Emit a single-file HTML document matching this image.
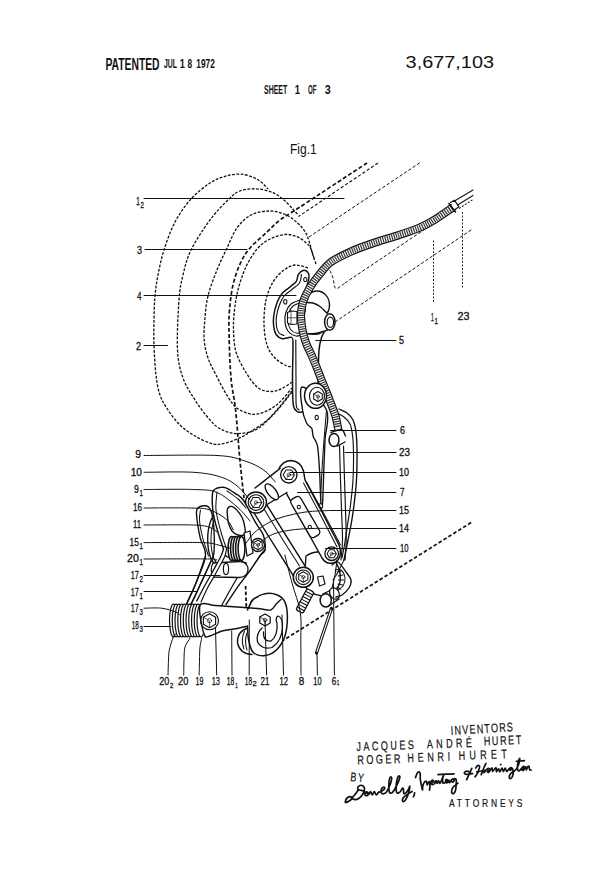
<!DOCTYPE html>
<html><head><meta charset="utf-8"><style>
html,body{margin:0;padding:0;background:#fff;width:600px;height:882px;overflow:hidden}
svg{display:block}
text{fill:#111}
.lb{stroke:#111;stroke-width:0.3}
</style></head><body>
<svg width="600" height="882" viewBox="0 0 600 882" stroke-linecap="round" stroke-linejoin="round">
<rect width="600" height="882" fill="#fff"/>
<text x="105.4" y="69.5" font-size="15.8" font-weight="bold" font-family="Liberation Sans, sans-serif" text-anchor="start" textLength="54.2" lengthAdjust="spacingAndGlyphs" >PATENTED</text>
<text x="164" y="68.4" font-size="13.1" font-weight="bold" font-family="Liberation Sans, sans-serif" text-anchor="start" textLength="13" lengthAdjust="spacingAndGlyphs" >JUL</text>
<text x="179.8" y="68.4" font-size="13.1" font-weight="bold" font-family="Liberation Sans, sans-serif" text-anchor="start" textLength="5.2" lengthAdjust="spacingAndGlyphs" >1</text>
<text x="187.6" y="68.4" font-size="13.1" font-weight="bold" font-family="Liberation Sans, sans-serif" text-anchor="start" textLength="4.6" lengthAdjust="spacingAndGlyphs" >8</text>
<text x="196.3" y="68.4" font-size="13.1" font-weight="bold" font-family="Liberation Sans, sans-serif" text-anchor="start" textLength="18.5" lengthAdjust="spacingAndGlyphs" >1972</text>
<text x="405.6" y="68" font-size="16.8" font-weight="normal" font-family="Liberation Sans, sans-serif" text-anchor="start" textLength="88.4" lengthAdjust="spacingAndGlyphs" >3,677,103</text>
<text x="264" y="93.8" font-size="13.6" font-weight="bold" font-family="Liberation Sans, sans-serif" text-anchor="start" textLength="23.2" lengthAdjust="spacingAndGlyphs" >SHEET</text>
<text x="294.7" y="93.8" font-size="13.6" font-weight="bold" font-family="Liberation Sans, sans-serif" text-anchor="start" textLength="5.3" lengthAdjust="spacingAndGlyphs" >1</text>
<text x="308" y="93.8" font-size="13.6" font-weight="bold" font-family="Liberation Sans, sans-serif" text-anchor="start" textLength="8.5" lengthAdjust="spacingAndGlyphs" >OF</text>
<text x="324.7" y="93.8" font-size="13.6" font-weight="bold" font-family="Liberation Sans, sans-serif" text-anchor="start" textLength="6" lengthAdjust="spacingAndGlyphs" >3</text>
<text x="290" y="153.8" font-size="14" font-weight="normal" font-family="Liberation Sans, sans-serif" text-anchor="start" textLength="26.7" lengthAdjust="spacingAndGlyphs" >Fig.1</text>
<path d="M291.7 392.3 C288.4 396.3 278.4 409.9 271.7 416.3 C265.0 422.8 257.3 427.3 251.7 431.0 C246.1 434.7 242.8 436.5 238.3 438.5 C233.9 440.5 229.2 442.3 225.0 443.2 C220.8 444.1 218.0 445.2 213.0 444.0 C208.0 442.8 200.5 439.2 195.0 436.0 C189.5 432.8 184.5 429.3 180.0 425.0 C175.5 420.7 171.3 415.0 168.0 410.0 C164.7 405.0 162.0 400.8 160.0 395.0 C158.0 389.2 157.0 383.3 156.0 375.0 C155.0 366.7 154.3 354.2 154.0 345.0 C153.7 335.8 153.8 328.2 154.0 320.0 C154.2 311.8 154.3 303.5 155.0 296.0 C155.7 288.5 156.5 282.7 158.0 275.0 C159.5 267.3 161.2 258.8 164.0 250.0 C166.8 241.2 170.5 230.5 175.0 222.0 C179.5 213.5 185.2 205.5 191.0 199.0 C196.8 192.5 204.3 186.8 210.0 183.0 C215.7 179.2 219.8 177.9 225.0 176.4 C230.2 174.9 236.0 173.6 241.5 174.2 C247.0 174.8 253.6 177.2 258.0 179.7 C262.4 182.2 266.3 187.4 268.0 189.0" fill="none" stroke="#111" stroke-width="1.3" stroke-dasharray="2.8 1.5" stroke-linecap="butt" />
<path d="M297.4 214.0 C296.6 213.2 295.1 211.4 292.8 209.0 C290.5 206.6 287.1 202.6 283.7 199.8 C280.3 197.1 277.3 194.3 272.7 192.5 C268.1 190.7 261.6 189.1 256.2 188.8 C250.8 188.6 244.5 189.3 240.0 191.0 C235.5 192.7 234.0 194.2 229.0 199.0 C224.0 203.8 216.3 211.5 210.0 220.0 C203.7 228.5 195.5 240.8 191.0 250.0 C186.5 259.2 185.0 266.7 183.0 275.0 C181.0 283.3 179.9 287.5 179.0 300.0 C178.1 312.5 176.8 337.0 177.5 350.0 C178.2 363.0 180.1 369.7 183.0 378.0 C185.9 386.3 190.5 393.0 195.0 400.0 C199.5 407.0 205.6 415.1 210.0 420.0 C214.4 424.9 216.8 427.2 221.5 429.5 C226.2 431.8 231.9 433.8 238.0 433.6 C244.1 433.4 251.6 432.5 258.3 428.3 C265.0 424.1 272.7 414.5 278.3 408.3 C283.9 402.1 289.5 393.9 291.7 391.0" fill="none" stroke="#111" stroke-width="1.3" stroke-dasharray="2.8 1.5" stroke-linecap="butt" />
<path d="M316.0 264.0 C315.3 262.0 313.1 255.7 312.0 252.0 C310.9 248.3 310.4 245.2 309.3 242.0 C308.2 238.8 307.5 235.9 305.7 232.8 C303.9 229.8 301.7 226.8 298.3 223.7 C294.9 220.6 290.4 216.6 285.5 214.5 C280.6 212.4 274.8 210.9 269.0 211.0 C263.2 211.1 256.3 212.2 251.0 215.0 C245.7 217.8 241.0 222.5 237.0 228.0 C233.0 233.5 230.3 241.0 227.0 248.0 C223.7 255.0 220.2 262.0 217.0 270.0 C213.8 278.0 210.0 287.7 208.0 296.0 C206.0 304.3 205.4 312.7 204.8 320.0 C204.2 327.3 203.7 333.7 204.2 340.0 C204.7 346.3 206.0 352.2 208.0 358.0 C210.0 363.8 212.7 368.5 216.0 375.0 C219.3 381.5 224.3 391.3 228.0 397.0 C231.7 402.7 233.7 406.1 238.3 409.0 C242.9 411.9 249.5 414.9 255.7 414.3 C261.9 413.8 269.7 410.0 275.7 405.7 C281.7 401.4 289.0 391.2 291.7 388.3" fill="none" stroke="#111" stroke-width="1.3" stroke-dasharray="2.8 1.5" stroke-linecap="butt" />
<path d="M308.0 268.0 C305.8 267.5 299.0 264.7 295.0 265.0 C291.0 265.3 287.7 267.2 284.0 270.0 C280.3 272.8 276.0 277.0 273.0 282.0 C270.0 287.0 267.5 293.0 266.0 300.0 C264.5 307.0 263.8 316.5 264.0 324.0 C264.2 331.5 265.2 339.3 267.0 345.0 C268.8 350.7 271.7 354.5 275.0 358.0 C278.3 361.5 284.0 364.7 287.0 366.0 C290.0 367.3 292.0 366.0 293.0 366.0" fill="none" stroke="#111" stroke-width="1.3" stroke-dasharray="2.8 1.5" stroke-linecap="butt" />
<path d="M367.0 163.0 C355.8 170.3 314.5 197.5 300.0 207.0 C285.5 216.5 285.5 215.8 280.0 220.0 C274.5 224.2 272.0 227.3 267.0 232.0 C262.0 236.7 254.5 242.7 250.0 248.0 C245.5 253.3 242.8 257.8 240.0 264.0 C237.2 270.2 234.8 277.3 233.0 285.0 C231.2 292.7 230.2 301.7 229.5 310.0 C228.8 318.3 228.8 323.7 229.1 335.0 C229.3 346.3 229.9 365.5 231.0 378.0 C232.1 390.5 234.1 396.3 235.6 410.0 C237.1 423.7 238.5 445.3 239.9 460.0 C241.3 474.7 243.3 491.7 244.0 498.0" fill="none" stroke="#111" stroke-width="1.7" stroke-dasharray="4 2.2" stroke-linecap="butt" />
<line x1="378" y1="163" x2="298.5" y2="216.5" stroke="#111" stroke-width="1.1" stroke-linecap="butt" stroke-dasharray="3.2 2"/>
<path d="M314.0 258.0 C313.4 256.3 311.8 250.6 310.5 248.0 C309.2 245.4 308.2 244.6 306.0 242.7 C303.8 240.8 300.5 238.1 297.0 236.7 C293.5 235.3 289.5 234.1 285.0 234.5 C280.5 234.9 274.5 236.8 270.0 239.0 C265.5 241.2 261.5 244.3 258.0 248.0 C254.5 251.7 251.5 256.7 249.0 261.0 C246.5 265.3 244.9 268.8 243.0 274.0 C241.1 279.2 238.9 286.0 237.5 292.0 C236.1 298.0 235.2 303.7 234.5 310.0 C233.8 316.3 233.2 323.0 233.5 330.0 C233.8 337.0 233.9 344.8 236.0 352.0 C238.1 359.2 242.6 367.0 246.3 373.0 C250.0 379.0 254.1 384.9 258.3 388.0 C262.5 391.1 267.8 391.4 271.7 391.5 C275.6 391.6 278.7 390.0 282.0 388.5 C285.3 387.0 290.1 383.3 291.7 382.3" fill="none" stroke="#111" stroke-width="1.3" stroke-dasharray="2.8 1.5" stroke-linecap="butt" />
<line x1="309" y1="237" x2="421" y2="162" stroke="#111" stroke-width="1.0" stroke-linecap="butt" stroke-dasharray="3.2 2"/>
<path d="M330.0 270.5 C330.5 271.8 332.2 275.4 333.0 278.0 C333.8 280.6 333.8 284.2 334.5 286.0 C335.2 287.8 335.2 289.0 337.0 288.5 C338.8 288.0 343.7 283.9 345.0 283.0" fill="none" stroke="#111" stroke-width="1.0" stroke-dasharray="3.2 2" stroke-linecap="butt" />
<line x1="345" y1="283" x2="452" y2="211" stroke="#111" stroke-width="1.0" stroke-linecap="butt" stroke-dasharray="3.2 2"/>
<line x1="335" y1="322" x2="472.5" y2="229" stroke="#111" stroke-width="1.0" stroke-linecap="butt" stroke-dasharray="3.2 2"/>
<line x1="433.5" y1="240.5" x2="433.5" y2="303" stroke="#111" stroke-width="0.9" stroke-linecap="butt" stroke-dasharray="2 1.5"/>
<line x1="462.5" y1="212" x2="462.5" y2="288" stroke="#111" stroke-width="0.9" stroke-linecap="butt" stroke-dasharray="2 1.5"/>
<line x1="281.3" y1="641.5" x2="472.5" y2="521.7" stroke="#111" stroke-width="1.7" stroke-linecap="butt" stroke-dasharray="3.6 2.2"/>
<path d="M339.0 409.0 C340.3 409.7 344.7 411.2 347.0 413.0 C349.3 414.8 351.5 416.8 353.0 420.0 C354.5 423.2 355.3 427.0 356.0 432.0 C356.7 437.0 356.9 442.0 357.0 450.0 C357.1 458.0 357.0 470.8 356.5 480.0 C356.0 489.2 354.9 497.5 354.0 505.0 C353.1 512.5 352.2 518.3 351.0 525.0 C349.8 531.7 348.2 539.2 347.0 545.0 C345.8 550.8 344.5 557.5 344.0 560.0" fill="none" stroke="#111" stroke-width="1.38" />
<path d="M337.0 413.0 C338.2 413.7 341.8 415.2 344.0 417.0 C346.2 418.8 348.6 421.0 350.0 424.0 C351.4 427.0 351.9 430.3 352.5 435.0 C353.1 439.7 353.4 444.5 353.5 452.0 C353.6 459.5 353.5 471.2 353.0 480.0 C352.5 488.8 351.4 497.5 350.5 505.0 C349.6 512.5 348.5 518.3 347.5 525.0 C346.5 531.7 345.4 539.5 344.5 545.0 C343.6 550.5 342.4 555.8 342.0 558.0" fill="none" stroke="#111" stroke-width="1.15" />
<path d="M339.5 446.0 C339.7 451.7 340.2 469.3 340.5 480.0 C340.8 490.7 341.2 500.0 341.5 510.0 C341.8 520.0 342.6 531.7 342.5 540.0 C342.4 548.3 341.2 556.7 341.0 560.0" fill="none" stroke="#111" stroke-width="1.15" />
<path d="M343.5 446.0 C343.7 451.7 344.2 469.3 344.5 480.0 C344.8 490.7 345.2 500.0 345.5 510.0 C345.8 520.0 346.3 531.7 346.2 540.0 C346.1 548.3 345.2 556.7 345.0 560.0" fill="none" stroke="#111" stroke-width="1.15" />
<path d="M303.0 270.5 C304.6 270.1 306.8 271.1 307.8 272.2 C308.8 273.3 309.3 274.0 309.0 277.0 C308.7 280.0 307.0 285.3 306.0 290.0 C305.0 294.7 303.7 300.0 303.0 305.0 C302.3 310.0 301.7 315.5 302.0 320.0 C302.3 324.5 302.3 329.7 305.0 332.0 C307.7 334.3 314.7 334.3 318.0 334.0 C321.3 333.7 324.4 329.5 325.0 330.0 C325.6 330.5 322.7 333.7 321.7 337.0 C320.7 340.3 319.6 342.8 319.0 350.0 C318.4 357.2 318.2 372.5 318.0 380.0 C317.8 387.5 319.0 389.7 318.0 395.0 C317.0 400.3 314.7 409.2 312.0 412.0 C309.3 414.8 304.4 412.1 302.0 412.0 C299.6 411.9 298.9 412.9 297.5 411.7 C296.1 410.5 294.1 410.3 293.3 405.0 C292.5 399.7 292.6 389.8 292.5 380.0 C292.4 370.2 293.1 353.1 293.0 346.0 C292.9 338.9 293.5 338.7 291.7 337.5 C289.9 336.3 284.9 339.2 282.3 338.7 C279.7 338.2 277.7 336.7 276.3 334.7 C274.9 332.7 274.1 329.8 273.7 326.7 C273.3 323.6 273.1 320.0 273.7 316.0 C274.2 312.0 275.6 306.5 277.0 302.7 C278.4 298.9 280.1 296.0 282.3 293.3 C284.5 290.6 288.0 288.7 290.3 286.7 C292.6 284.7 295.0 283.3 296.3 281.3 C297.6 279.3 297.2 276.5 298.3 274.7 C299.4 272.9 301.4 270.9 303.0 270.5Z" fill="#fff" stroke="#111" stroke-width="1.49" />
<path d="M301.5 274.5 C301.2 275.9 301.1 280.5 299.5 283.0 C297.9 285.5 294.5 287.4 292.0 289.5 C289.5 291.6 286.5 293.1 284.5 295.5 C282.5 297.9 281.1 300.6 279.8 304.0 C278.5 307.4 277.1 312.2 276.5 316.0 C275.9 319.8 276.1 323.7 276.5 326.5 C276.9 329.3 277.8 331.5 279.0 333.0 C280.2 334.5 283.2 335.1 284.0 335.5" fill="none" stroke="#111" stroke-width="1.15" />
<path d="M295.8 340.0 C295.8 346.7 295.9 369.2 296.0 380.0 C296.1 390.8 295.7 400.0 296.2 405.0 C296.7 410.0 298.5 409.2 299.0 410.0" fill="none" stroke="#111" stroke-width="1.15" />
<ellipse cx="305.3" cy="279.6" rx="1.6" ry="2.2" fill="#fff" stroke="#111" stroke-width="1.03" />
<ellipse cx="285.3" cy="301.7" rx="1.6" ry="2.3" fill="#fff" stroke="#111" stroke-width="1.03" />
<path d="M300.0 300.0 C298.5 300.7 293.3 302.0 291.0 304.0 C288.7 306.0 287.0 309.0 286.0 312.0 C285.0 315.0 284.7 318.8 285.0 322.0 C285.3 325.2 286.2 328.7 288.0 331.0 C289.8 333.3 293.2 335.5 296.0 336.0 C298.8 336.5 303.5 334.3 305.0 334.0" fill="none" stroke="#111" stroke-width="1.15" />
<path d="M300.0 302.8 C298.8 303.3 294.9 304.3 293.0 306.0 C291.1 307.7 289.6 310.1 288.8 312.8 C288.0 315.5 287.7 319.2 288.0 322.0 C288.3 324.8 289.1 327.6 290.6 329.5 C292.1 331.4 294.8 332.9 297.0 333.3 C299.2 333.7 302.8 332.1 304.0 331.8" fill="none" stroke="#111" stroke-width="1.03" />
<path d="M287.5 312.5 L291 311 L297 311.5 L297 324 L291 324.5 L287.5 323 Z" fill="#fff" stroke="#111" stroke-width="1.15"/>
<path d="M291 311 L291 324.5 M287.5 317.8 L297 317.8" stroke="#111" stroke-width="0.69" fill="none"/>
<ellipse cx="317" cy="305" rx="12.5" ry="14" fill="#fff" stroke="#111" stroke-width="1.38" />
<path d="M306 302 L327.5 313 L327.5 330.5 L305.5 334 Z" fill="#fff" stroke="none"/>
<path d="M306.0 302.5 C307.2 302.6 310.7 302.3 313.0 303.0 C315.3 303.7 317.7 304.8 320.0 306.5 C322.3 308.2 325.8 312.1 327.0 313.2" fill="none" stroke="#111" stroke-width="1.38" />
<path d="M305.5 334.0 C307.1 333.9 312.1 333.9 315.0 333.5 C317.9 333.1 320.9 332.1 323.0 331.5 C325.1 330.9 326.8 330.2 327.5 330.0" fill="none" stroke="#111" stroke-width="1.38" />
<ellipse cx="329.8" cy="322" rx="5.2" ry="8.2" fill="#fff" stroke="#111" stroke-width="1.49" />
<ellipse cx="330.4" cy="322.3" rx="3.2" ry="5.2" fill="#fff" stroke="#111" stroke-width="1.15" />
<path d="M452.0 208.0 C449.2 209.9 440.3 216.2 435.0 219.5 C429.7 222.8 426.0 224.9 420.0 227.5 C414.0 230.1 406.5 232.5 399.0 235.0 C391.5 237.5 383.0 239.8 375.0 242.5 C367.0 245.2 358.3 248.2 351.0 251.5 C343.7 254.8 336.3 258.1 331.0 262.0 C325.7 265.9 322.7 270.5 319.0 275.0 C315.3 279.5 311.7 284.5 309.0 289.0 C306.3 293.5 304.3 297.7 303.0 302.0 C301.7 306.3 301.1 310.3 301.0 315.0 C300.9 319.7 301.7 325.3 302.5 330.0 C303.3 334.7 304.5 338.8 306.0 343.0 C307.5 347.2 309.8 351.0 311.5 355.0 C313.2 359.0 314.8 362.8 316.5 367.0 C318.2 371.2 319.8 375.8 321.5 380.0 C323.2 384.2 324.8 387.8 326.5 392.0 C328.2 396.2 330.0 401.0 331.5 405.0 C333.0 409.0 334.4 412.2 335.5 416.0 C336.6 419.8 337.6 426.0 338.0 428.0" fill="none" stroke="#111" stroke-width="8.2"/>
<path d="M452.0 208.0 C449.2 209.9 440.3 216.2 435.0 219.5 C429.7 222.8 426.0 224.9 420.0 227.5 C414.0 230.1 406.5 232.5 399.0 235.0 C391.5 237.5 383.0 239.8 375.0 242.5 C367.0 245.2 358.3 248.2 351.0 251.5 C343.7 254.8 336.3 258.1 331.0 262.0 C325.7 265.9 322.7 270.5 319.0 275.0 C315.3 279.5 311.7 284.5 309.0 289.0 C306.3 293.5 304.3 297.7 303.0 302.0 C301.7 306.3 301.1 310.3 301.0 315.0 C300.9 319.7 301.7 325.3 302.5 330.0 C303.3 334.7 304.5 338.8 306.0 343.0 C307.5 347.2 309.8 351.0 311.5 355.0 C313.2 359.0 314.8 362.8 316.5 367.0 C318.2 371.2 319.8 375.8 321.5 380.0 C323.2 384.2 324.8 387.8 326.5 392.0 C328.2 396.2 330.0 401.0 331.5 405.0 C333.0 409.0 334.4 412.2 335.5 416.0 C336.6 419.8 337.6 426.0 338.0 428.0" fill="none" stroke="#fff" stroke-width="5.8"/>
<path d="M452.0 208.0 C449.2 209.9 440.3 216.2 435.0 219.5 C429.7 222.8 426.0 224.9 420.0 227.5 C414.0 230.1 406.5 232.5 399.0 235.0 C391.5 237.5 383.0 239.8 375.0 242.5 C367.0 245.2 358.3 248.2 351.0 251.5 C343.7 254.8 336.3 258.1 331.0 262.0 C325.7 265.9 322.7 270.5 319.0 275.0 C315.3 279.5 311.7 284.5 309.0 289.0 C306.3 293.5 304.3 297.7 303.0 302.0 C301.7 306.3 301.1 310.3 301.0 315.0 C300.9 319.7 301.7 325.3 302.5 330.0 C303.3 334.7 304.5 338.8 306.0 343.0 C307.5 347.2 309.8 351.0 311.5 355.0 C313.2 359.0 314.8 362.8 316.5 367.0 C318.2 371.2 319.8 375.8 321.5 380.0 C323.2 384.2 324.8 387.8 326.5 392.0 C328.2 396.2 330.0 401.0 331.5 405.0 C333.0 409.0 334.4 412.2 335.5 416.0 C336.6 419.8 337.6 426.0 338.0 428.0" fill="none" stroke="#333" stroke-width="5.8" stroke-dasharray="1.2 1.1" stroke-linecap="butt"/>
<path d="M449 203.5 L455.5 212" stroke="#111" stroke-width="1.61"/>
<path d="M450.5 202.5 L454.5 200.3 L459 206.8 L455 209.5" fill="#fff" stroke="#111" stroke-width="1.15"/>
<path d="M454.5 201 L473 190 M457.5 205 L473 195.5" stroke="#111" stroke-width="1.03"/>
<path d="M459 208.5 L473 199.5" stroke="#111" stroke-width="1.03" stroke-dasharray="2 1.5" stroke-linecap="butt"/>
<path d="M302.5 387.0 C298.5 387.0 301.8 403.9 302.5 410.0 C303.2 416.1 305.2 420.2 306.7 423.3 C308.2 426.4 310.6 426.1 311.7 428.3 C312.8 430.5 312.3 433.8 313.3 436.7 C314.3 439.6 316.5 440.4 317.5 446.0 C318.5 451.6 318.9 460.3 319.5 470.0 C320.1 479.7 320.5 498.3 321.0 504.0 C321.5 509.7 322.0 509.7 322.5 504.0 C323.0 498.3 323.4 480.7 323.8 470.0 C324.2 459.3 324.6 450.0 325.0 440.0 C325.4 430.0 330.2 418.8 326.5 410.0 C322.8 401.2 306.5 387.0 302.5 387.0Z" fill="#fff" stroke="#111" stroke-width="1.38" />
<ellipse cx="315.5" cy="395.8" rx="11" ry="12.5" fill="#fff" stroke="#111" stroke-width="1.49" />
<ellipse cx="317" cy="396.2" rx="7.5" ry="9" fill="#fff" stroke="#111" stroke-width="1.15" />
<path d="M318.0 401.5 L313.7 399.0 L313.7 394.0 L318.0 391.5 L322.3 394.0 L322.3 399.0Z" fill="#fff" stroke="#111" stroke-width="1.03"/>
<path d="M318.0 401.5 L318.0 396.5 L313.7 394.0" fill="none" stroke="#111" stroke-width="0.69"/>
<circle cx="318.0" cy="396.5" r="1.5" fill="none" stroke="#111" stroke-width="0.69"/>
<ellipse cx="316.7" cy="417.5" rx="1.6" ry="2.3" fill="#fff" stroke="#111" stroke-width="1.03" />
<path d="M331 433 L341 430 L346 440 L336 446 Z" fill="#fff" stroke="none"/>
<path d="M331.0 432.5 C332.8 432.0 339.1 428.9 341.5 429.5 C343.9 430.1 344.8 434.9 345.5 436.0" fill="none" stroke="#111" stroke-width="1.38" />
<path d="M337.5 446.0 C338.8 445.3 343.8 442.7 345.0 442.0" fill="none" stroke="#111" stroke-width="1.38" />
<ellipse cx="334" cy="440" rx="5" ry="6.5" fill="#fff" stroke="#111" stroke-width="1.49" />
<path d="M326.5 410.0 C326.1 415.0 324.8 430.0 324.0 440.0 C323.2 450.0 322.6 460.0 322.0 470.0 C321.4 480.0 320.8 495.0 320.5 500.0" fill="none" stroke="#111" stroke-width="1.03" />
<ellipse cx="320.5" cy="506" rx="2.2" ry="2.2" fill="#fff" stroke="#111" stroke-width="1.03" />
<path d="M306 556 Q318 548 330 556 Q342 566 340 582 Q336 596 322 596 Q308 594 304 584 Z" fill="#fff" stroke="#111" stroke-width="1.38"/>
<path d="M278.5 470 Q282 461 291 460.5 Q301 461.5 303.5 471 L305 480 L322 512 L339 545 Q343 556 336 562 Q327 566 322 558 L301 520 L284 489 Q277 480 278.5 470 Z" fill="#fff" stroke="#111" stroke-width="1.49"/>
<path d="M303.5 483.0 C306.2 488.2 314.4 503.3 320.0 514.0 C325.6 524.7 334.2 541.5 337.0 547.0" fill="none" stroke="#111" stroke-width="1.03" />
<path d="M306.5 482.0 C309.3 487.2 317.8 502.5 323.5 513.0 C329.2 523.5 337.7 539.7 340.5 545.0" fill="none" stroke="#111" stroke-width="1.03" />
<g transform="rotate(60 305.3 517)"><rect x="283.3" y="511.5" width="44" height="11" rx="3.5" fill="#fff" stroke="#111" stroke-width="1.38"/></g>
<ellipse cx="298.8" cy="507" rx="1.6" ry="1.8" fill="#fff" stroke="#111" stroke-width="1.03" />
<ellipse cx="309.8" cy="527" rx="1.6" ry="1.8" fill="#fff" stroke="#111" stroke-width="1.03" />
<path d="M255 488 L280 468.5 L287 492.5 L267 505 Z" fill="#fff" stroke="none"/>
<path d="M255.0 488.0 C257.1 486.4 263.3 481.6 267.5 478.3 C271.7 475.1 277.9 470.1 280.0 468.5" fill="none" stroke="#111" stroke-width="1.44" />
<path d="M267.0 504.5 C268.7 503.5 273.7 500.5 277.0 498.5 C280.3 496.5 285.3 493.5 287.0 492.5" fill="none" stroke="#111" stroke-width="1.44" />
<ellipse cx="271.8" cy="491.8" rx="4.2" ry="9.5" fill="#fff" stroke="#111" stroke-width="1.38" transform="rotate(-38 271.8 491.8)" />
<circle cx="288.8" cy="474.8" r="8.2" fill="#fff" stroke="#111" stroke-width="1.38"/>
<path d="M294.4 474.8 L291.6 479.6 L286.0 479.6 L283.2 474.8 L286.0 470.0 L291.6 470.0Z" fill="#fff" stroke="#111" stroke-width="1.03"/>
<path d="M294.4 474.8 L288.8 474.8 L286.0 479.6" fill="none" stroke="#111" stroke-width="0.69"/>
<circle cx="288.8" cy="474.8" r="1.7" fill="none" stroke="#111" stroke-width="0.69"/>
<path d="M249.6 506.0 L296.9 581.3 L309.7 573.3 L262.4 498.0Z" fill="#fff" stroke="#111" stroke-width="1.44"/>
<path d="M264.0 509.0 C267.2 514.2 277.1 530.5 283.0 540.0 C288.9 549.5 296.8 561.7 299.5 566.0" fill="none" stroke="#111" stroke-width="1.03" />
<circle cx="256" cy="502.5" r="10.5" fill="#fff" stroke="#111" stroke-width="1.49"/>
<circle cx="256" cy="502.5" r="7.8" fill="#fff" stroke="#111" stroke-width="1.15"/>
<path d="M261.8 502.5 L258.9 507.5 L253.1 507.5 L250.2 502.5 L253.1 497.5 L258.9 497.5Z" fill="#fff" stroke="#111" stroke-width="1.03"/>
<path d="M261.8 502.5 L256.0 502.5 L253.1 507.5" fill="none" stroke="#111" stroke-width="0.69"/>
<circle cx="256.0" cy="502.5" r="1.7" fill="none" stroke="#111" stroke-width="0.69"/>
<circle cx="303.3" cy="577.3" r="10" fill="#fff" stroke="#111" stroke-width="1.49"/>
<circle cx="303.3" cy="577.3" r="7.3" fill="#fff" stroke="#111" stroke-width="1.15"/>
<path d="M303.3 582.3 L298.7 579.6 L298.7 574.4 L303.3 571.7 L307.9 574.4 L307.9 579.6Z" fill="#fff" stroke="#111" stroke-width="1.03"/>
<path d="M303.3 582.3 L303.3 577.0 L298.7 574.4" fill="none" stroke="#111" stroke-width="0.69"/>
<circle cx="303.3" cy="577.0" r="1.6" fill="none" stroke="#111" stroke-width="0.69"/>
<circle cx="331.7" cy="553.7" r="6.8" fill="#fff" stroke="#111" stroke-width="1.26"/>
<path d="M336.3 553.7 L334.0 557.7 L329.4 557.7 L327.1 553.7 L329.4 549.7 L334.0 549.7Z" fill="#fff" stroke="#111" stroke-width="1.03"/>
<path d="M336.3 553.7 L331.7 553.7 L329.4 557.7" fill="none" stroke="#111" stroke-width="0.69"/>
<circle cx="331.7" cy="553.7" r="1.4" fill="none" stroke="#111" stroke-width="0.69"/>
<g transform="rotate(-62 305 601)"><rect x="293" y="597" width="24" height="8" rx="2" fill="#fff" stroke="#111" stroke-width="1.26"/><path d="M296 597 v8 M299 597 v8 M302 597 v8 M305 597 v8 M308 597 v8 M311 597 v8 M314 597 v8" stroke="#111" stroke-width="1.03"/></g>
<path d="M317.5 577 L323 576 L325 584 L319.5 586 Z" fill="#fff" stroke="#111" stroke-width="1.15"/>
<path d="M323 594 L334 588.5 L339 598 L328 606 Z" fill="#fff" stroke="none"/>
<path d="M323.0 594.0 C324.8 593.1 332.2 589.4 334.0 588.5" fill="none" stroke="#111" stroke-width="1.38" />
<path d="M328.0 606.5 C329.8 605.2 337.2 600.2 339.0 599.0" fill="none" stroke="#111" stroke-width="1.38" />
<ellipse cx="334.5" cy="593.5" rx="4.5" ry="6" fill="#fff" stroke="#111" stroke-width="1.26" transform="rotate(-30 334.5 593.5)" />
<ellipse cx="325.7" cy="600.3" rx="5.6" ry="6.6" fill="#fff" stroke="#111" stroke-width="1.49" />
<path d="M332.0 565.0 C333.0 564.5 335.7 560.8 338.0 562.0 C340.3 563.2 343.8 569.0 346.0 572.0 C348.2 575.0 350.5 577.3 351.0 580.0 C351.5 582.7 350.5 585.5 349.0 588.0 C347.5 590.5 344.2 593.5 342.0 595.0 C339.8 596.5 337.0 596.7 336.0 597.0" fill="none" stroke="#111" stroke-width="1.38" />
<path d="M335.0 570.0 C336.0 570.0 339.3 568.7 341.0 570.0 C342.7 571.3 344.7 575.3 345.0 578.0 C345.3 580.7 344.2 584.0 343.0 586.0 C341.8 588.0 338.8 589.3 338.0 590.0" fill="none" stroke="#111" stroke-width="1.03" />
<path d="M337 572 l4 -1 M338 576 l5 -1 M338.5 580 l5 0 M338 584 l4.5 1 M337 587 l3.5 2" stroke="#111" stroke-width="1.03"/>
<path d="M337.0 560.0 C336.7 562.5 335.8 570.3 335.0 575.0 C334.2 579.7 332.5 585.8 332.0 588.0" fill="none" stroke="#111" stroke-width="1.03" />
<path d="M345.0 558.0 C343.8 560.3 340.0 568.3 338.0 572.0 C336.0 575.7 333.8 578.7 333.0 580.0" fill="none" stroke="#111" stroke-width="1.03" />
<path d="M331.5 608.5 L316.5 653" stroke="#111" stroke-width="3.22"/>
<path d="M331 610 L317 651.5" stroke="#fff" stroke-width="1.03"/>
<path d="M203.3 505.8 C205.1 505.6 207.1 505.6 208.5 507.0 C209.9 508.4 211.1 510.2 212.0 514.0 C212.9 517.8 213.7 523.7 214.0 530.0 C214.3 536.3 214.4 547.0 214.0 552.0 C213.6 557.0 213.7 554.8 211.5 560.0 C209.3 565.2 204.4 575.7 201.0 583.0 C197.6 590.3 193.4 600.5 191.0 604.0 C188.6 607.5 185.9 607.5 186.7 604.0 C187.5 600.5 192.9 591.0 196.0 583.0 C199.1 575.0 204.8 563.7 205.5 556.0 C206.2 548.3 201.5 544.0 200.0 537.0 C198.5 530.0 196.8 518.8 196.5 514.0 C196.2 509.2 196.9 509.4 198.0 508.0 C199.1 506.6 201.6 506.0 203.3 505.8Z" fill="#fff" stroke="#111" stroke-width="1.38" />
<path d="M200.5 510.0 C200.3 511.7 199.2 515.5 199.5 520.0 C199.8 524.5 201.0 531.0 202.5 537.0 C204.0 543.0 207.5 552.8 208.5 556.0" fill="none" stroke="#111" stroke-width="1.03" />
<ellipse cx="216.5" cy="539.5" rx="8.8" ry="24.5" fill="none" stroke="#111" stroke-width="1.38" />
<ellipse cx="218" cy="540" rx="7" ry="23" fill="none" stroke="#111" stroke-width="1.03" />
<path d="M220.0 487.5 C221.8 487.3 223.5 486.8 226.0 487.8 C228.5 488.8 232.1 491.3 235.0 493.3 C237.9 495.3 240.0 495.3 243.3 500.0 C246.6 504.7 251.7 515.9 255.0 521.7 C258.3 527.5 261.6 530.3 263.3 535.0 C265.0 539.7 265.5 546.7 265.0 550.0 C264.5 553.3 262.7 552.3 260.5 555.0 C258.3 557.7 254.4 564.7 252.0 566.0 C249.6 567.3 248.3 564.0 246.0 563.0 C243.7 562.0 241.3 561.2 238.0 560.0 C234.7 558.8 228.4 557.8 226.0 556.0 C223.6 554.2 224.8 552.8 223.5 549.0 C222.2 545.2 220.0 539.2 218.3 533.3 C216.6 527.3 214.3 520.0 213.3 513.3 C212.3 506.6 212.1 497.4 212.5 493.3 C212.9 489.2 214.2 490.0 215.5 489.0 C216.8 488.0 218.2 487.7 220.0 487.5Z" fill="#fff" stroke="#111" stroke-width="1.44" />
<path d="M217.0 492.0 C216.8 495.0 215.3 503.3 216.0 510.0 C216.7 516.7 219.2 525.5 221.0 532.0 C222.8 538.5 225.6 546.2 226.5 549.0" fill="none" stroke="#111" stroke-width="1.03" />
<path d="M227.0 491.0 C228.8 492.3 234.8 496.2 238.0 499.0 C241.2 501.8 244.7 506.5 246.0 508.0" fill="none" stroke="#111" stroke-width="1.03" />
<path d="M227.5 509.0 C227.9 507.8 228.9 506.8 230.0 506.5 C231.1 506.2 232.3 506.2 234.0 507.5 C235.7 508.8 238.4 511.8 240.0 514.0 C241.6 516.2 242.7 517.7 243.5 521.0 C244.3 524.3 245.9 531.7 245.0 534.0 C244.1 536.3 240.2 535.5 238.0 535.0 C235.8 534.5 233.6 533.0 232.0 531.0 C230.4 529.0 229.3 525.8 228.5 523.0 C227.7 520.2 227.5 516.3 227.3 514.0 C227.1 511.7 227.1 510.2 227.5 509.0Z" fill="none" stroke="#111" stroke-width="1.38" />
<path d="M265 550 L260.5 554 L249.7 571 L236.7 588.3 L226 604.5 L221.5 605.7 L233 585 L245.3 564.5 Z" fill="#fff" stroke="none"/>
<path d="M265.0 550.0 C264.2 550.8 263.1 551.5 260.5 555.0 C257.9 558.5 253.7 565.5 249.7 571.0 C245.7 576.5 240.6 582.7 236.7 588.3 C232.8 593.9 227.8 601.8 226.0 604.5" fill="none" stroke="#111" stroke-width="1.44" />
<path d="M221.5 605.7 C223.4 602.2 229.0 591.9 233.0 585.0 C237.0 578.1 243.2 567.9 245.3 564.5" fill="none" stroke="#111" stroke-width="1.26" />
<path d="M213 563 L240 561.5 Q248.5 563 248 570 Q247 577.5 239 577.5 L214 577 Q209 570 213 563 Z" fill="#fff" stroke="#111" stroke-width="1.26"/>
<ellipse cx="226" cy="569" rx="2.6" ry="5.6" fill="#fff" stroke="#111" stroke-width="1.15" />
<path d="M223.5 549 L226.5 549 L224.5 557 L216.5 572 L207.5 588 L201 602 L196.7 601 L204 587 L213 571 Z" fill="#fff" stroke="none"/>
<path d="M223.5 549.0 C223.1 550.2 222.8 552.3 221.0 556.0 C219.2 559.7 215.8 565.8 213.0 571.0 C210.2 576.2 206.7 582.0 204.0 587.0 C201.3 592.0 197.9 598.7 196.7 601.0" fill="none" stroke="#111" stroke-width="1.32" />
<path d="M226.5 549.0 C226.2 550.3 226.2 553.2 224.5 557.0 C222.8 560.8 219.3 566.8 216.5 572.0 C213.7 577.2 210.1 583.0 207.5 588.0 C204.9 593.0 202.1 599.7 201.0 602.0" fill="none" stroke="#111" stroke-width="1.15" />
<path d="M205.5 556.0 C203.9 560.5 199.1 575.0 196.0 583.0 C192.9 591.0 188.2 600.5 186.7 604.0" fill="none" stroke="#111" stroke-width="1.32" />
<path d="M211.5 560.0 C209.8 563.8 204.4 575.7 201.0 583.0 C197.6 590.3 192.7 600.5 191.0 604.0" fill="none" stroke="#111" stroke-width="1.15" />
<ellipse cx="231.5" cy="548.5" rx="3.4" ry="12" fill="#fff" stroke="#111" stroke-width="1.55" />
<ellipse cx="234" cy="548.5" rx="3.4" ry="12" fill="#fff" stroke="#111" stroke-width="1.55" />
<ellipse cx="236.5" cy="548.5" rx="3.4" ry="12" fill="#fff" stroke="#111" stroke-width="1.55" />
<ellipse cx="239" cy="548.5" rx="3.4" ry="12" fill="#fff" stroke="#111" stroke-width="1.55" />
<ellipse cx="241.5" cy="548.5" rx="3.4" ry="12" fill="#fff" stroke="#111" stroke-width="1.55" />
<path d="M244 533 L250 531 L253 553 L247 556 Z" fill="#fff" stroke="#111" stroke-width="1.26"/>
<circle cx="258" cy="545" r="6.5" fill="#fff" stroke="#111" stroke-width="1.38"/>
<path d="M258.0 549.8 L253.8 547.4 L253.8 542.6 L258.0 540.2 L262.2 542.6 L262.2 547.4Z" fill="#fff" stroke="#111" stroke-width="1.03"/>
<path d="M258.0 549.8 L258.0 545.0 L253.8 542.6" fill="none" stroke="#111" stroke-width="0.69"/>
<circle cx="258.0" cy="545.0" r="1.4" fill="none" stroke="#111" stroke-width="0.69"/>
<ellipse cx="173.5" cy="620.5" rx="4.0" ry="16.3" fill="#fff" stroke="#111" stroke-width="1.21" />
<ellipse cx="176.25" cy="620.5" rx="4.0" ry="16.3" fill="#fff" stroke="#111" stroke-width="1.21" />
<ellipse cx="179.0" cy="620.5" rx="4.0" ry="16.3" fill="#fff" stroke="#111" stroke-width="1.21" />
<ellipse cx="181.75" cy="620.5" rx="4.0" ry="16.3" fill="#fff" stroke="#111" stroke-width="1.21" />
<ellipse cx="184.5" cy="620.5" rx="4.0" ry="16.3" fill="#fff" stroke="#111" stroke-width="1.21" />
<ellipse cx="187.25" cy="620.5" rx="4.0" ry="16.3" fill="#fff" stroke="#111" stroke-width="1.21" />
<ellipse cx="190.0" cy="620.5" rx="4.0" ry="16.3" fill="#fff" stroke="#111" stroke-width="1.21" />
<ellipse cx="192.75" cy="620.5" rx="4.0" ry="16.3" fill="#fff" stroke="#111" stroke-width="1.21" />
<ellipse cx="195.5" cy="620.5" rx="4.0" ry="16.3" fill="#fff" stroke="#111" stroke-width="1.21" />
<ellipse cx="198.25" cy="620.5" rx="4.0" ry="16.3" fill="#fff" stroke="#111" stroke-width="1.21" />
<ellipse cx="201.0" cy="620.5" rx="4.0" ry="16.3" fill="#fff" stroke="#111" stroke-width="1.21" />
<path d="M200.0 605.5 C201.8 600.8 210.0 605.3 215.0 605.5 C220.0 605.7 224.6 606.1 230.0 606.5 C235.4 606.9 243.8 607.3 247.5 607.7 C251.2 608.1 251.2 606.1 252.0 609.0 C252.8 611.9 252.8 622.1 252.0 625.0 C251.2 627.9 250.2 625.7 247.5 626.3 C244.8 626.9 240.2 627.9 236.0 628.7 C231.8 629.5 226.3 629.8 222.0 631.0 C217.7 632.2 213.0 635.5 210.0 636.0 C207.0 636.5 205.7 639.1 204.0 634.0 C202.3 628.9 198.2 610.2 200.0 605.5Z" fill="#fff" stroke="#111" stroke-width="1.44" />
<circle cx="209.5" cy="620.7" r="9" fill="none" stroke="#111" stroke-width="1.15"/>
<path d="M209.5 627.7 L203.4 624.2 L203.4 617.2 L209.5 613.7 L215.6 617.2 L215.6 624.2Z" fill="#fff" stroke="#111" stroke-width="1.15"/>
<path d="M209.5 627.7 L209.5 620.7 L203.4 617.2" fill="none" stroke="#111" stroke-width="0.69"/>
<circle cx="209.5" cy="620.7" r="2.1" fill="none" stroke="#111" stroke-width="0.69"/>
<path d="M248 628 Q237 631 237.5 643 Q240 654 252 654.5" fill="#fff" stroke="#111" stroke-width="1.38"/>
<path d="M244.5 631 Q240.5 640 244 649" fill="none" stroke="#111" stroke-width="1.03"/>
<path d="M247 633 Q244 641 247 650" fill="none" stroke="#111" stroke-width="1.03"/>
<path d="M247.5 610.0 C248.5 608.2 250.4 602.2 253.3 599.5 C256.2 596.8 261.1 594.5 265.0 593.7 C268.9 592.9 273.4 593.4 276.7 594.8 C280.0 596.1 283.0 598.1 284.8 601.8 C286.6 605.5 287.4 611.4 287.4 617.0 C287.4 622.6 286.8 630.2 285.0 635.7 C283.2 641.2 280.0 646.4 276.7 649.7 C273.4 653.0 268.9 655.0 265.0 655.5 C261.1 656.0 256.0 655.0 253.3 652.5 C250.6 650.0 249.7 644.7 248.7 640.3 C247.7 635.9 247.7 628.4 247.5 626.0" fill="#fff" stroke="#111" stroke-width="1.49" />
<path d="M247.5 607.7 C249.6 607.9 256.1 608.4 260.0 608.8 C263.9 609.2 268.1 610.8 270.8 610.0 C273.5 609.2 274.5 605.8 276.2 604.0 C277.9 602.2 280.2 600.2 281.0 599.5" fill="none" stroke="#111" stroke-width="1.38" />
<path d="M249.5 606.0 C249.9 605.0 250.6 601.5 252.0 600.0 C253.4 598.5 257.0 597.5 258.0 597.0" fill="none" stroke="#111" stroke-width="1.03" />
<path d="M262 628 Q256 633 257.5 642 Q262 650 272 647.5 Q282 641 282.5 627 Q282.5 617 278 616 Q275 618 277 623 Q278 636 271 641 Q263 642 263.5 632" fill="none" stroke="#111" stroke-width="1.26"/>
<path d="M265.0 626.0 L259.8 623.0 L259.8 617.0 L265.0 614.0 L270.2 617.0 L270.2 623.0Z" fill="#fff" stroke="#111" stroke-width="1.26"/>
<path d="M265.0 626.0 L265.0 620.0 L259.8 617.0" fill="none" stroke="#111" stroke-width="0.69"/>
<circle cx="265.0" cy="620.0" r="1.8" fill="none" stroke="#111" stroke-width="0.69"/>
<path d="M245.6 586.0 C245.7 589.5 246.2 603.5 246.3 607.0" fill="none" stroke="#111" stroke-width="1.84" stroke-dasharray="3.5 2.2" stroke-linecap="butt" />
<line x1="144" y1="198.5" x2="344" y2="198.5" stroke="#111" stroke-width="1.0" />
<line x1="145" y1="249.5" x2="247" y2="249.5" stroke="#111" stroke-width="1.0" />
<line x1="144" y1="295.5" x2="296" y2="295.5" stroke="#111" stroke-width="1.0" />
<line x1="144" y1="345.5" x2="167.5" y2="345.5" stroke="#111" stroke-width="1.0" />
<line x1="315.8" y1="340.5" x2="396" y2="340.5" stroke="#111" stroke-width="1.0" />
<line x1="330.5" y1="430.5" x2="396" y2="430.5" stroke="#111" stroke-width="1.0" />
<line x1="345" y1="452.5" x2="396" y2="452.5" stroke="#111" stroke-width="1.0" />
<line x1="290" y1="472.5" x2="396" y2="472.5" stroke="#111" stroke-width="1.0" />
<line x1="297.5" y1="492.5" x2="396" y2="492.5" stroke="#111" stroke-width="1.0" />
<line x1="330" y1="510.5" x2="396" y2="510.5" stroke="#111" stroke-width="1.0" />
<line x1="330" y1="528.5" x2="396" y2="528.5" stroke="#111" stroke-width="1.0" />
<line x1="325.5" y1="548.5" x2="396" y2="548.5" stroke="#111" stroke-width="1.0" />
<path d="M144.0 455.5 C156.2 455.5 200.2 454.6 217.0 455.5 C233.8 456.4 237.2 458.6 245.0 461.0 C252.8 463.4 258.6 466.5 263.7 470.0 C268.8 473.5 273.4 480.0 275.3 482.0" fill="none" stroke="#111" stroke-width="1.0" />
<path d="M144.0 472.3 C152.3 472.3 180.8 471.5 193.7 472.3 C206.6 473.1 214.3 474.9 221.7 477.3 C229.1 479.7 233.3 482.9 238.0 486.7 C242.7 490.5 247.8 497.8 249.7 500.0" fill="none" stroke="#111" stroke-width="1.0" />
<path d="M144.0 489.5 C152.3 489.5 181.5 489.0 193.7 489.5 C205.9 490.0 209.6 489.5 217.0 492.5 C224.4 495.5 232.5 502.9 238.0 507.7 C243.5 512.5 248.0 518.8 250.0 521.0" fill="none" stroke="#111" stroke-width="1.0" />
<path d="M144.0 508.0 C151.9 508.0 180.3 507.7 191.3 508.0 C202.3 508.3 204.2 508.1 210.0 510.0 C215.8 511.9 222.4 516.0 226.3 519.3 C230.2 522.6 232.1 528.0 233.3 529.8" fill="none" stroke="#111" stroke-width="1.0" />
<path d="M144.0 525.0 C152.3 525.0 182.7 524.6 193.7 525.0 C204.7 525.4 206.1 526.3 210.0 527.5 C213.9 528.7 215.8 531.2 217.0 532.0" fill="none" stroke="#111" stroke-width="1.0" />
<path d="M144.0 542.6 C153.6 542.6 189.3 542.2 201.7 542.6 C214.1 543.0 213.6 544.0 218.3 545.0 C223.0 546.0 228.1 547.8 230.0 548.3" fill="none" stroke="#111" stroke-width="1.0" />
<path d="M144.0 559.0 C155.0 559.0 198.2 558.7 210.0 559.0 C221.8 559.3 214.2 560.5 215.0 560.8" fill="none" stroke="#111" stroke-width="1.0" />
<line x1="144" y1="575.5" x2="220" y2="575.5" stroke="#111" stroke-width="1.0" />
<path d="M330.0 510.5 C326.7 510.7 316.1 510.9 310.0 511.5 C303.9 512.1 298.6 513.1 293.3 514.3 C288.0 515.5 282.6 516.8 278.0 518.5 C273.4 520.2 269.8 521.9 265.8 524.3 C261.8 526.7 257.4 529.8 254.0 533.0 C250.7 536.2 247.1 541.8 245.7 543.6" fill="none" stroke="#111" stroke-width="1.0" />
<path d="M330.0 528.5 C327.5 528.5 319.6 528.3 315.0 528.4 C310.4 528.5 307.0 528.5 302.5 528.9 C298.0 529.2 292.6 529.7 288.0 530.5 C283.4 531.3 278.7 532.2 275.0 533.5 C271.3 534.8 268.6 536.3 266.0 538.0 C263.4 539.7 260.5 542.7 259.4 543.6" fill="none" stroke="#111" stroke-width="1.0" />
<line x1="144" y1="591.5" x2="196.7" y2="591.5" stroke="#111" stroke-width="1.0" />
<path d="M144.0 608.2 C146.9 608.2 156.5 607.6 161.7 608.2 C166.9 608.8 171.9 610.6 175.0 611.7 C178.1 612.8 179.2 614.5 180.0 615.0" fill="none" stroke="#111" stroke-width="1.0" />
<line x1="144" y1="626.5" x2="171" y2="626.5" stroke="#111" stroke-width="1.0" />
<path d="M168.0 675.0 C168.1 672.5 168.3 664.2 168.5 660.0 C168.7 655.8 168.5 653.8 169.3 650.0 C170.1 646.2 172.1 639.8 173.3 637.0 C174.5 634.2 176.1 633.9 176.7 633.3" fill="none" stroke="#111" stroke-width="1.0" />
<path d="M183.7 675.0 C183.8 672.5 183.8 664.7 184.0 660.0 C184.2 655.3 184.0 650.6 185.0 647.0 C186.0 643.4 189.2 639.8 190.0 638.3" fill="none" stroke="#111" stroke-width="1.0" />
<path d="M199.2 675.0 C199.2 672.5 199.4 664.7 199.5 660.0 C199.6 655.3 199.6 650.6 200.0 647.0 C200.4 643.4 201.4 639.8 201.7 638.3" fill="none" stroke="#111" stroke-width="1.0" />
<line x1="216.7" y1="675" x2="215.5" y2="628" stroke="#111" stroke-width="1.0" />
<line x1="232" y1="675" x2="231.7" y2="631" stroke="#111" stroke-width="1.0" />
<line x1="249.2" y1="675" x2="249.3" y2="620" stroke="#111" stroke-width="1.0" />
<line x1="266.6" y1="675" x2="265" y2="620" stroke="#111" stroke-width="1.0" />
<line x1="283.5" y1="675" x2="282" y2="615" stroke="#111" stroke-width="1.0" />
<path d="M301.0 675.0 C301.0 669.2 300.9 650.5 300.8 640.0 C300.7 629.5 301.8 621.5 300.3 612.0 C298.8 602.5 294.6 592.5 292.0 583.0 C289.4 573.5 286.0 559.7 284.8 555.0" fill="none" stroke="#111" stroke-width="1.0" />
<line x1="317.4" y1="675" x2="317" y2="653" stroke="#111" stroke-width="1.0" />
<line x1="334.4" y1="675" x2="333.5" y2="580" stroke="#111" stroke-width="1.0" />
<text x="136.2" y="205" font-size="10.5" font-weight="normal" font-family="Liberation Sans, sans-serif" text-anchor="start" textLength="3.600000000000011" lengthAdjust="spacingAndGlyphs" class="lb">1</text>
<text x="140.4" y="208.2" font-size="8.4" font-weight="normal" font-family="Liberation Sans, sans-serif" text-anchor="start" textLength="3.4" lengthAdjust="spacingAndGlyphs" class="lb">2</text>
<text x="137" y="254" font-size="10.5" font-weight="normal" font-family="Liberation Sans, sans-serif" text-anchor="start" textLength="5" lengthAdjust="spacingAndGlyphs" class="lb">3</text>
<text x="137" y="300" font-size="10.5" font-weight="normal" font-family="Liberation Sans, sans-serif" text-anchor="start" textLength="4.5" lengthAdjust="spacingAndGlyphs" class="lb">4</text>
<text x="136" y="350" font-size="10.5" font-weight="normal" font-family="Liberation Sans, sans-serif" text-anchor="start" textLength="5" lengthAdjust="spacingAndGlyphs" class="lb">2</text>
<text x="135.2" y="458.1" font-size="10.5" font-weight="normal" font-family="Liberation Sans, sans-serif" text-anchor="start" textLength="5.800000000000011" lengthAdjust="spacingAndGlyphs" class="lb">9</text>
<text x="130.7" y="475.8" font-size="10.5" font-weight="normal" font-family="Liberation Sans, sans-serif" text-anchor="start" textLength="11.300000000000011" lengthAdjust="spacingAndGlyphs" class="lb">10</text>
<text x="134" y="492.5" font-size="10.5" font-weight="normal" font-family="Liberation Sans, sans-serif" text-anchor="start" textLength="4.8" lengthAdjust="spacingAndGlyphs" class="lb">9</text>
<text x="139.4" y="495.7" font-size="8.4" font-weight="normal" font-family="Liberation Sans, sans-serif" text-anchor="start" textLength="3.4" lengthAdjust="spacingAndGlyphs" class="lb">1</text>
<text x="133" y="511.4" font-size="10.5" font-weight="normal" font-family="Liberation Sans, sans-serif" text-anchor="start" textLength="9" lengthAdjust="spacingAndGlyphs" class="lb">16</text>
<text x="133" y="528.4" font-size="10.5" font-weight="normal" font-family="Liberation Sans, sans-serif" text-anchor="start" textLength="8" lengthAdjust="spacingAndGlyphs" class="lb">11</text>
<text x="129.5" y="546" font-size="10.5" font-weight="normal" font-family="Liberation Sans, sans-serif" text-anchor="start" textLength="9.3" lengthAdjust="spacingAndGlyphs" class="lb">15</text>
<text x="139.4" y="549.2" font-size="8.4" font-weight="normal" font-family="Liberation Sans, sans-serif" text-anchor="start" textLength="3.4" lengthAdjust="spacingAndGlyphs" class="lb">1</text>
<text x="127" y="562" font-size="10.5" font-weight="normal" font-family="Liberation Sans, sans-serif" text-anchor="start" textLength="11.8" lengthAdjust="spacingAndGlyphs" class="lb">20</text>
<text x="139.4" y="565.2" font-size="8.4" font-weight="normal" font-family="Liberation Sans, sans-serif" text-anchor="start" textLength="3.4" lengthAdjust="spacingAndGlyphs" class="lb">1</text>
<text x="130.7" y="578.5" font-size="10.5" font-weight="normal" font-family="Liberation Sans, sans-serif" text-anchor="start" textLength="8.100000000000012" lengthAdjust="spacingAndGlyphs" class="lb">17</text>
<text x="139.4" y="581.7" font-size="8.4" font-weight="normal" font-family="Liberation Sans, sans-serif" text-anchor="start" textLength="3.4" lengthAdjust="spacingAndGlyphs" class="lb">2</text>
<text x="130.7" y="595.5" font-size="10.5" font-weight="normal" font-family="Liberation Sans, sans-serif" text-anchor="start" textLength="8.100000000000012" lengthAdjust="spacingAndGlyphs" class="lb">17</text>
<text x="139.4" y="598.7" font-size="8.4" font-weight="normal" font-family="Liberation Sans, sans-serif" text-anchor="start" textLength="3.4" lengthAdjust="spacingAndGlyphs" class="lb">1</text>
<text x="130.7" y="611.5" font-size="10.5" font-weight="normal" font-family="Liberation Sans, sans-serif" text-anchor="start" textLength="8.100000000000012" lengthAdjust="spacingAndGlyphs" class="lb">17</text>
<text x="139.4" y="614.7" font-size="8.4" font-weight="normal" font-family="Liberation Sans, sans-serif" text-anchor="start" textLength="3.4" lengthAdjust="spacingAndGlyphs" class="lb">3</text>
<text x="131.8" y="628.5" font-size="10.5" font-weight="normal" font-family="Liberation Sans, sans-serif" text-anchor="start" textLength="6.9999999999999885" lengthAdjust="spacingAndGlyphs" class="lb">18</text>
<text x="139.4" y="631.7" font-size="8.4" font-weight="normal" font-family="Liberation Sans, sans-serif" text-anchor="start" textLength="3.4" lengthAdjust="spacingAndGlyphs" class="lb">3</text>
<text x="399" y="344" font-size="10.5" font-weight="normal" font-family="Liberation Sans, sans-serif" text-anchor="start" textLength="5" lengthAdjust="spacingAndGlyphs" class="lb">5</text>
<text x="400" y="434" font-size="10.5" font-weight="normal" font-family="Liberation Sans, sans-serif" text-anchor="start" textLength="5" lengthAdjust="spacingAndGlyphs" class="lb">6</text>
<text x="399" y="456" font-size="10.5" font-weight="normal" font-family="Liberation Sans, sans-serif" text-anchor="start" textLength="11" lengthAdjust="spacingAndGlyphs" class="lb">23</text>
<text x="399" y="475.5" font-size="10.5" font-weight="normal" font-family="Liberation Sans, sans-serif" text-anchor="start" textLength="10" lengthAdjust="spacingAndGlyphs" class="lb">10</text>
<text x="400" y="495.5" font-size="10.5" font-weight="normal" font-family="Liberation Sans, sans-serif" text-anchor="start" textLength="4.5" lengthAdjust="spacingAndGlyphs" class="lb">7</text>
<text x="399" y="514" font-size="10.5" font-weight="normal" font-family="Liberation Sans, sans-serif" text-anchor="start" textLength="10" lengthAdjust="spacingAndGlyphs" class="lb">15</text>
<text x="399" y="531.5" font-size="10.5" font-weight="normal" font-family="Liberation Sans, sans-serif" text-anchor="start" textLength="10" lengthAdjust="spacingAndGlyphs" class="lb">14</text>
<text x="400" y="551.5" font-size="10.5" font-weight="normal" font-family="Liberation Sans, sans-serif" text-anchor="start" textLength="8.5" lengthAdjust="spacingAndGlyphs" class="lb">10</text>
<text x="431" y="320.5" font-size="10.5" font-weight="normal" font-family="Liberation Sans, sans-serif" text-anchor="start" textLength="2.8" lengthAdjust="spacingAndGlyphs" class="lb">1</text>
<text x="434.4" y="323.7" font-size="8.4" font-weight="normal" font-family="Liberation Sans, sans-serif" text-anchor="start" textLength="3.4" lengthAdjust="spacingAndGlyphs" class="lb">1</text>
<text x="457.5" y="320" font-size="10.5" font-weight="normal" font-family="Liberation Sans, sans-serif" text-anchor="start" textLength="12.0" lengthAdjust="spacingAndGlyphs" class="lb">23</text>
<text x="159.2" y="684.6" font-size="10.5" font-weight="normal" font-family="Liberation Sans, sans-serif" text-anchor="start" textLength="10.0" lengthAdjust="spacingAndGlyphs" class="lb">20</text>
<text x="170" y="688.3" font-size="8" font-weight="normal" font-family="Liberation Sans, sans-serif" text-anchor="start" textLength="3.3" lengthAdjust="spacingAndGlyphs" class="lb">2</text>
<text x="178" y="684.6" font-size="10.5" font-weight="normal" font-family="Liberation Sans, sans-serif" text-anchor="start" textLength="10.300000000000011" lengthAdjust="spacingAndGlyphs" class="lb">20</text>
<text x="195.5" y="684.6" font-size="10.5" font-weight="normal" font-family="Liberation Sans, sans-serif" text-anchor="start" textLength="7.800000000000011" lengthAdjust="spacingAndGlyphs" class="lb">19</text>
<text x="211.7" y="684.6" font-size="10.5" font-weight="normal" font-family="Liberation Sans, sans-serif" text-anchor="start" textLength="8.300000000000011" lengthAdjust="spacingAndGlyphs" class="lb">13</text>
<text x="226.7" y="684.6" font-size="10.5" font-weight="normal" font-family="Liberation Sans, sans-serif" text-anchor="start" textLength="7.5" lengthAdjust="spacingAndGlyphs" class="lb">18</text>
<text x="235.3" y="688.3" font-size="8" font-weight="normal" font-family="Liberation Sans, sans-serif" text-anchor="start" textLength="2.4" lengthAdjust="spacingAndGlyphs" class="lb">1</text>
<text x="244.8" y="684.6" font-size="10.5" font-weight="normal" font-family="Liberation Sans, sans-serif" text-anchor="start" textLength="7.199999999999989" lengthAdjust="spacingAndGlyphs" class="lb">18</text>
<text x="252.5" y="686" font-size="8" font-weight="normal" font-family="Liberation Sans, sans-serif" text-anchor="start" textLength="4.2" lengthAdjust="spacingAndGlyphs" class="lb">2</text>
<text x="260.5" y="684.6" font-size="10.5" font-weight="normal" font-family="Liberation Sans, sans-serif" text-anchor="start" textLength="8.800000000000011" lengthAdjust="spacingAndGlyphs" class="lb">21</text>
<text x="279.4" y="684.6" font-size="10.5" font-weight="normal" font-family="Liberation Sans, sans-serif" text-anchor="start" textLength="8.600000000000023" lengthAdjust="spacingAndGlyphs" class="lb">12</text>
<text x="298.7" y="684.6" font-size="10.5" font-weight="normal" font-family="Liberation Sans, sans-serif" text-anchor="start" textLength="5.5" lengthAdjust="spacingAndGlyphs" class="lb">8</text>
<text x="313.3" y="684.6" font-size="10.5" font-weight="normal" font-family="Liberation Sans, sans-serif" text-anchor="start" textLength="8.300000000000011" lengthAdjust="spacingAndGlyphs" class="lb">10</text>
<text x="331.7" y="684.6" font-size="10.5" font-weight="normal" font-family="Liberation Sans, sans-serif" text-anchor="start" textLength="4.600000000000023" lengthAdjust="spacingAndGlyphs" class="lb">6</text>
<text x="336.8" y="685" font-size="8" font-weight="normal" font-family="Liberation Sans, sans-serif" text-anchor="start" textLength="2.6" lengthAdjust="spacingAndGlyphs" class="lb">1</text>
<g transform="translate(451 735) rotate(-3.5) scale(0.72 1)"><text x="0" y="0" font-size="12.6" font-family="Liberation Sans, sans-serif" font-style="normal" font-weight="normal" textLength="86.5" lengthAdjust="spacing" stroke="#111" stroke-width="0.2">INVENTORS</text></g>
<g transform="translate(356.5 751) rotate(-2) scale(0.72 1)"><text x="0" y="0" font-size="12.6" font-family="Liberation Sans, sans-serif" font-style="normal" font-weight="normal" textLength="79.9" lengthAdjust="spacing" stroke="#111" stroke-width="0.2">JACQUES</text></g>
<g transform="translate(427 748.5) rotate(-2) scale(0.72 1)"><text x="0" y="0" font-size="12.6" font-family="Liberation Sans, sans-serif" font-style="normal" font-weight="normal" textLength="62.5" lengthAdjust="spacing" stroke="#111" stroke-width="0.2">ANDRÉ</text></g>
<g transform="translate(484 745.6) rotate(-2.5) scale(0.72 1)"><text x="0" y="0" font-size="12.6" font-family="Liberation Sans, sans-serif" font-style="normal" font-weight="normal" textLength="52.1" lengthAdjust="spacing" stroke="#111" stroke-width="0.2">HURET</text></g>
<g transform="translate(357.6 764.4) rotate(-2) scale(0.72 1)"><text x="0" y="0" font-size="12.6" font-family="Liberation Sans, sans-serif" font-style="normal" font-weight="normal" textLength="59.6" lengthAdjust="spacing" stroke="#111" stroke-width="0.2">ROGER</text></g>
<g transform="translate(407.6 762.2) rotate(-2) scale(0.72 1)"><text x="0" y="0" font-size="12.6" font-family="Liberation Sans, sans-serif" font-style="normal" font-weight="normal" textLength="59.3" lengthAdjust="spacing" stroke="#111" stroke-width="0.2">HENRI</text></g>
<g transform="translate(458.8 760) rotate(-2) scale(0.72 1)"><text x="0" y="0" font-size="12.6" font-family="Liberation Sans, sans-serif" font-style="normal" font-weight="normal" textLength="66.9" lengthAdjust="spacing" stroke="#111" stroke-width="0.2">HURET</text></g>
<g transform="translate(350 781) rotate(6) scale(0.72 1)"><text x="0" y="0" font-size="12.6" font-family="Liberation Sans, sans-serif" font-style="normal" font-weight="normal" textLength="18.8" lengthAdjust="spacing" stroke="#111" stroke-width="0.2">BY</text></g>
<g transform="translate(449 806.7) rotate(0) scale(0.72 1)"><text x="0" y="0" font-size="11.8" font-family="Liberation Sans, sans-serif" font-style="normal" font-weight="normal" textLength="102.1" lengthAdjust="spacing" stroke="#111" stroke-width="0.2">ATTORNEYS</text></g>
<path d="M345.3 802.3 C345.4 801.8 345.6 800.3 346.0 799.5 C346.4 798.7 347.1 798.0 347.8 797.5 C348.5 797.0 349.3 796.7 350.0 796.7 C350.7 796.7 351.5 797.0 351.8 797.4 C352.1 797.8 352.2 798.4 351.8 799.0 C351.4 799.6 350.4 800.2 349.5 800.8 C348.6 801.4 347.2 802.1 346.5 802.4 C345.8 802.6 345.5 802.3 345.3 802.3" fill="none" stroke="#111" stroke-width="1.7"/>
<path d="M351.5 798.3 C351.9 797.9 353.2 796.8 354.0 795.8 C354.8 794.8 355.8 793.5 356.5 792.5 C357.2 791.5 358.2 790.2 358.5 789.8" fill="none" stroke="#111" stroke-width="1.7"/>
<path d="M351.8 798.6 C352.4 798.8 354.2 799.6 355.3 799.6 C356.4 799.6 357.6 799.2 358.7 798.5 C359.8 797.8 361.1 796.5 362.0 795.3 C362.9 794.1 363.6 792.7 364.0 791.5 C364.4 790.3 364.6 789.0 364.4 788.0 C364.2 787.0 363.5 786.1 362.8 785.7 C362.1 785.3 360.8 785.2 360.0 785.5 C359.2 785.8 358.1 786.7 357.8 787.4 C357.5 788.1 357.8 789.1 358.4 789.6 C359.0 790.1 360.3 790.2 361.3 790.4 C362.3 790.6 364.0 790.9 364.5 791.0" fill="none" stroke="#111" stroke-width="1.7"/>
<path d="M364.5 793.0 C364.8 792.8 365.9 791.8 366.5 791.8 C367.1 791.8 368.1 792.4 368.3 793.0 C368.5 793.6 368.0 794.9 367.5 795.3 C367.0 795.7 365.7 795.6 365.3 795.3 C364.9 795.0 364.7 793.9 365.0 793.5 C365.3 793.1 366.4 793.0 367.0 793.2 C367.6 793.4 368.1 794.8 368.7 794.5 C369.3 794.2 369.9 791.6 370.5 791.6 C371.1 791.6 371.6 794.8 372.2 794.8 C372.8 794.8 373.6 791.6 374.3 791.6 C375.0 791.6 375.5 794.7 376.2 794.8 C376.9 794.9 378.1 792.7 378.5 792.3" fill="none" stroke="#111" stroke-width="1.7"/>
<path d="M378.5 792.3 C379.0 792.1 380.5 791.8 381.5 791.2 C382.5 790.6 384.2 789.5 384.6 788.8 C385.0 788.1 384.5 787.2 384.0 787.2 C383.5 787.2 382.1 787.8 381.6 788.6 C381.1 789.4 380.7 791.3 381.0 792.2 C381.3 793.1 382.6 793.8 383.5 793.8 C384.4 793.8 385.5 793.3 386.5 792.0 C387.5 790.7 388.6 788.1 389.5 786.0 C390.4 783.9 391.3 781.0 391.6 779.5 C391.9 778.0 391.5 777.2 391.2 777.0 C390.9 776.8 390.0 777.2 389.6 778.5 C389.2 779.8 388.8 782.7 388.8 785.0 C388.8 787.3 389.0 791.3 389.6 792.5 C390.2 793.7 391.4 793.3 392.5 792.3 C393.6 791.3 395.0 788.8 396.2 786.5 C397.4 784.2 399.1 780.2 399.6 778.5 C400.2 776.8 399.8 776.1 399.5 776.0 C399.2 775.9 398.2 776.3 397.6 777.8 C397.1 779.3 396.3 782.5 396.2 785.0 C396.1 787.5 396.2 791.4 396.8 792.6 C397.4 793.8 398.9 792.9 399.8 792.2 C400.7 791.5 401.8 788.7 402.4 788.2 C403.0 787.8 403.3 788.6 403.5 789.5 C403.7 790.4 403.4 793.0 403.8 793.5 C404.2 794.0 405.4 793.4 406.2 792.6 C407.0 791.8 408.2 789.7 408.8 788.6 C409.4 787.5 409.7 785.9 409.8 786.2 C409.9 786.5 409.6 788.9 409.2 790.5 C408.8 792.1 408.3 794.2 407.6 795.8 C406.9 797.4 405.9 799.2 405.2 800.2 C404.5 801.2 403.7 801.7 403.2 801.6 C402.7 801.5 402.2 800.5 402.4 799.6 C402.6 798.7 403.5 797.4 404.6 796.4 C405.7 795.4 407.6 794.4 408.8 793.6 C410.0 792.8 411.5 791.9 412.0 791.5" fill="none" stroke="#111" stroke-width="1.7"/>
<path d="M414.6 792.8 C414.5 793.2 414.4 794.3 414.2 795.0 C414.0 795.7 413.5 796.5 413.4 796.8" fill="none" stroke="#111" stroke-width="1.7"/>
<path d="M415.5 777.5 C415.8 776.8 416.6 774.2 417.2 773.3 C417.8 772.4 418.5 771.8 419.0 771.9 C419.5 772.0 420.0 772.5 420.2 773.8 C420.4 775.1 420.1 777.6 420.3 779.5 C420.5 781.4 421.0 783.2 421.4 785.0 C421.8 786.8 422.1 789.9 422.4 790.0 C422.6 790.1 422.5 786.9 422.9 785.6 C423.3 784.3 424.0 782.7 424.6 782.0 C425.2 781.3 425.9 780.9 426.3 781.4 C426.7 781.9 426.9 784.6 427.2 784.8 C427.5 785.0 428.0 783.1 428.4 782.6 C428.8 782.1 429.1 781.2 429.4 781.6 C429.7 782.0 430.0 783.6 430.0 785.0 C430.0 786.4 429.6 789.3 429.5 790.2" fill="none" stroke="#111" stroke-width="1.7"/>
<path d="M429.8 784.2 C430.0 783.7 430.7 781.9 431.2 781.2 C431.7 780.5 432.6 780.1 433.0 780.2 C433.4 780.3 433.8 781.1 433.6 781.6 C433.4 782.1 432.0 782.5 431.8 783.0 C431.6 783.5 431.7 784.5 432.2 784.6 C432.7 784.7 434.0 784.2 434.6 783.5 C435.2 782.8 435.6 780.6 436.0 780.6 C436.4 780.6 436.6 783.4 437.0 783.4 C437.4 783.4 438.0 780.6 438.5 780.6 C439.0 780.6 439.4 783.7 440.0 783.4 C440.6 783.1 441.4 780.4 442.0 779.0 C442.6 777.6 443.5 775.0 443.6 775.0 C443.7 775.0 442.7 777.7 442.6 779.0 C442.5 780.3 442.6 782.4 443.0 783.0 C443.4 783.6 444.5 782.9 445.2 782.4 C445.9 781.9 447.3 780.5 447.4 780.0 C447.5 779.5 446.3 779.3 446.0 779.6 C445.7 779.9 445.3 781.5 445.6 782.0 C445.9 782.5 447.0 782.9 447.6 782.6 C448.2 782.3 448.7 780.0 449.0 780.0 C449.3 780.0 449.1 782.7 449.6 782.6 C450.1 782.5 451.2 780.1 452.0 779.6 C452.8 779.1 454.3 779.0 454.5 779.4 C454.7 779.8 453.6 781.7 453.0 782.0 C452.4 782.3 451.3 781.5 451.2 781.0 C451.1 780.5 451.7 779.3 452.5 779.0 C453.3 778.7 455.4 778.2 456.0 779.0 C456.6 779.8 456.3 782.2 456.2 784.0 C456.1 785.8 456.0 788.4 455.6 790.0 C455.2 791.6 454.3 793.2 453.6 793.6 C452.9 794.0 451.7 793.3 451.6 792.2 C451.5 791.1 451.9 788.7 453.0 787.2 C454.1 785.7 457.2 783.9 458.0 783.2" fill="none" stroke="#111" stroke-width="1.7"/>
<path d="M438.0 774.6 C439.3 774.5 443.3 774.3 446.0 774.2 C448.7 774.1 452.7 773.9 454.0 773.8" fill="none" stroke="#111" stroke-width="1.7"/>
<path d="M471.6 773.9 C471.0 773.5 469.2 771.8 468.2 771.4 C467.2 771.0 466.1 771.3 465.5 771.6 C464.9 771.9 464.2 772.9 464.4 773.4 C464.6 773.9 465.6 774.3 466.5 774.4 C467.4 774.5 468.5 774.3 469.5 774.2 C470.5 774.1 472.1 773.7 472.6 773.6" fill="none" stroke="#111" stroke-width="1.7"/>
<path d="M471.8 768.4 C471.5 769.1 470.4 771.4 469.8 772.8 C469.2 774.2 468.5 775.7 468.0 776.8 C467.5 777.9 466.8 779.1 466.6 779.6" fill="none" stroke="#111" stroke-width="1.7"/>
<path d="M475.6 768.0 C475.9 767.6 476.9 765.9 477.6 765.6 C478.3 765.3 479.4 765.4 479.6 766.2 C479.8 767.0 479.0 769.1 478.6 770.4 C478.2 771.7 477.6 773.1 477.0 774.2 C476.4 775.3 475.3 776.4 475.0 776.8" fill="none" stroke="#111" stroke-width="1.7"/>
<path d="M476.8 771.8 C477.6 771.7 480.0 771.2 481.4 771.0 C482.8 770.8 484.7 770.5 485.4 770.4" fill="none" stroke="#111" stroke-width="1.7"/>
<path d="M486.0 763.4 C485.7 764.0 484.7 765.8 484.2 767.0 C483.7 768.2 483.3 769.3 482.8 770.6 C482.3 771.9 481.5 773.9 481.2 774.6" fill="none" stroke="#111" stroke-width="1.7"/>
<path d="M484.0 772.6 C484.4 772.2 485.6 770.7 486.3 770.0 C487.0 769.3 487.6 768.4 488.2 768.3 C488.8 768.2 489.7 769.0 489.6 769.6 C489.5 770.2 487.5 771.2 487.4 771.6 C487.3 772.0 488.3 772.6 488.8 772.3 C489.3 772.0 490.1 770.3 490.6 769.6 C491.1 768.9 491.7 767.7 492.0 768.0 C492.3 768.3 492.2 771.3 492.6 771.5 C493.0 771.7 494.0 769.6 494.6 769.0 C495.2 768.4 495.9 767.5 496.2 768.0 C496.5 768.5 496.0 771.7 496.4 771.8 C496.8 771.9 498.0 768.8 498.6 768.8 C499.2 768.8 499.2 771.9 499.8 771.8 C500.4 771.7 501.4 768.2 502.0 768.2 C502.6 768.2 502.9 771.6 503.4 771.6 C503.9 771.6 504.6 768.2 505.2 768.2 C505.8 768.2 506.1 771.6 506.8 771.6 C507.5 771.6 508.6 769.0 509.4 768.4 C510.2 767.8 511.4 767.5 511.6 767.8 C511.8 768.1 510.9 770.0 510.6 770.2 C510.3 770.4 509.4 769.4 509.6 769.0 C509.8 768.6 511.2 767.6 511.8 768.0 C512.4 768.4 513.1 770.2 513.2 771.5 C513.3 772.8 513.0 774.8 512.6 776.0 C512.2 777.2 511.2 778.4 510.6 778.6 C510.0 778.8 509.2 778.2 509.2 777.4 C509.2 776.6 509.7 774.7 510.6 773.6 C511.5 772.5 513.4 771.9 514.6 770.8 C515.8 769.7 516.8 768.7 517.6 767.0 C518.4 765.3 519.3 762.2 519.6 760.8 C519.9 759.4 519.8 758.3 519.6 758.4 C519.4 758.5 518.8 759.7 518.4 761.2 C518.0 762.7 517.4 765.9 517.4 767.5 C517.4 769.1 517.9 770.8 518.6 771.0 C519.3 771.2 520.6 769.4 521.4 768.6 C522.2 767.8 522.9 766.5 523.4 766.4 C523.9 766.3 524.6 767.5 524.6 768.2 C524.6 768.9 523.7 770.2 523.2 770.4 C522.7 770.6 521.5 769.6 521.6 769.2 C521.7 768.8 523.3 768.4 524.0 768.0 C524.7 767.6 525.2 766.5 525.6 766.8 C526.0 767.1 526.1 769.8 526.4 769.8 C526.7 769.8 527.2 767.6 527.6 767.0 C528.0 766.4 528.7 765.8 529.0 766.2 C529.3 766.6 529.3 768.9 529.6 769.6 C529.9 770.3 530.8 770.1 531.0 770.2" fill="none" stroke="#111" stroke-width="1.7"/>
<path d="M516.4 761.4 C517.1 761.3 519.1 761.1 520.4 761.0 C521.7 760.9 523.7 760.7 524.4 760.6" fill="none" stroke="#111" stroke-width="1.7"/>
<path d="M500.6 764.6 C500.7 764.6 500.8 764.4 500.9 764.4" fill="none" stroke="#111" stroke-width="1.7"/>
</svg>
</body></html>
